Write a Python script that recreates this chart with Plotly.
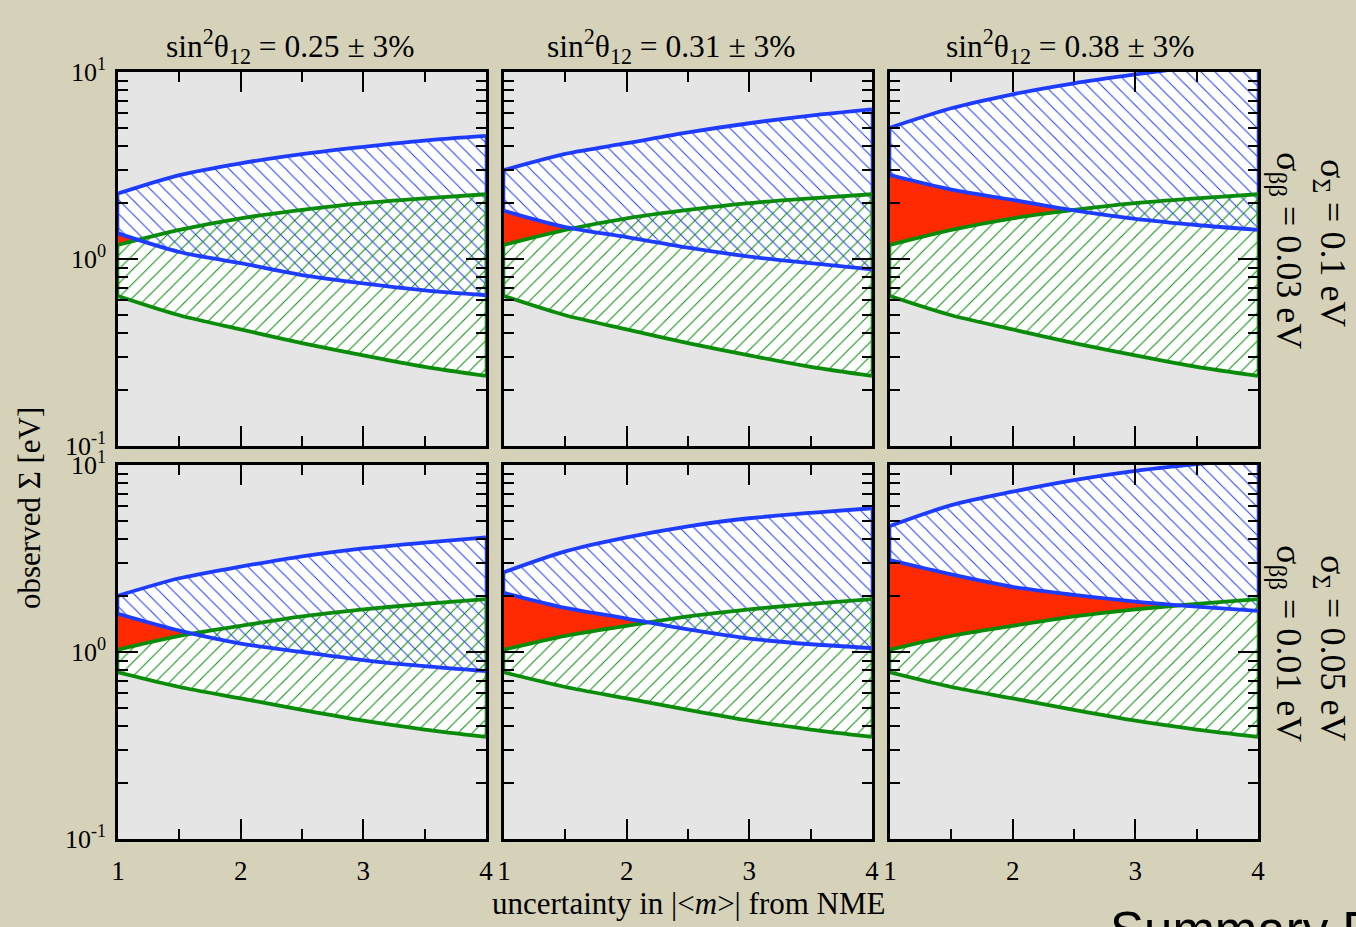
import plotly.graph_objects as go

# ---------------- data ----------------
x_nme = [1, 1.5, 2, 2.5, 3, 3.5, 4]

col_titles = ["sin<sup>2</sup>θ<sub>12</sub> = 0.25 ± 3%",
              "sin<sup>2</sup>θ<sub>12</sub> = 0.31 ± 3%",
              "sin<sup>2</sup>θ<sub>12</sub> = 0.38 ± 3%"]
row_labels_sigma = ["σ<sub>Σ</sub> = 0.1 eV", "σ<sub>Σ</sub> = 0.05 eV"]
row_labels_bb = ["σ<sub>ββ</sub> = 0.03 eV", "σ<sub>ββ</sub> = 0.01 eV"]

# green band (beta-beta), same for every column of a row
green_lo_top = [0.634, 0.50, 0.42, 0.355, 0.305, 0.265, 0.237]
green_hi_top = [1.19, 1.43, 1.65, 1.83, 1.99, 2.11, 2.22]
green_lo_bot = [0.778, 0.65, 0.565, 0.49, 0.429, 0.385, 0.352]
green_hi_bot = [1.03, 1.22, 1.38, 1.55, 1.69, 1.81, 1.92]

# blue band (cosmology Sigma)
blue_hi_top_025 = [2.24, 2.81, 3.25, 3.64, 3.98, 4.3, 4.55]
blue_lo_top_025 = [1.37, 1.09, 0.95, 0.82, 0.74, 0.68, 0.64]
blue_hi_top_031 = [2.99, 3.65, 4.16, 4.75, 5.32, 5.85, 6.31]
blue_lo_top_031 = [1.81, 1.48, 1.31, 1.15, 1.03, 0.95, 0.88]
blue_hi_top_038 = [5.04, 6.4, 7.6, 8.7, 9.7, 10.7, 11.6]
blue_lo_top_038 = [2.81, 2.35, 2.07, 1.82, 1.64, 1.52, 1.43]

blue_hi_bot_025 = [2.0, 2.48, 2.86, 3.25, 3.58, 3.85, 4.1]
blue_lo_bot_025 = [1.6, 1.30, 1.11, 1.0, 0.906, 0.84, 0.79]
blue_hi_bot_031 = [2.67, 3.45, 4.1, 4.7, 5.19, 5.55, 5.87]
blue_lo_bot_031 = [2.07, 1.72, 1.51, 1.32, 1.18, 1.10, 1.05]
blue_hi_bot_038 = [4.72, 6.1, 7.2, 8.3, 9.3, 10.1, 10.8]
blue_lo_bot_038 = [3.10, 2.6, 2.23, 2.02, 1.86, 1.75, 1.66]

y_tickvals = [0.1, 1, 10]
y_ticktext = ["10<sup>-1</sup>", "10<sup>0</sup>", "10<sup>1</sup>"]
x_tickvals = [1, 2, 3, 4]
x_minor = [1.5, 2.5, 3.5]
y_minor = [0.2, 0.3, 0.4, 0.5, 0.6, 0.7, 0.8, 0.9, 2, 3, 4, 5, 6, 7, 8, 9]

panels = [
    (green_lo_top, green_hi_top, blue_lo_top_025, blue_hi_top_025),
    (green_lo_top, green_hi_top, blue_lo_top_031, blue_hi_top_031),
    (green_lo_top, green_hi_top, blue_lo_top_038, blue_hi_top_038),
    (green_lo_bot, green_hi_bot, blue_lo_bot_025, blue_hi_bot_025),
    (green_lo_bot, green_hi_bot, blue_lo_bot_031, blue_hi_bot_031),
    (green_lo_bot, green_hi_bot, blue_lo_bot_038, blue_hi_bot_038),
]

# ---------------- style ----------------
W, H = 1356, 927
BLUE = "#1e3cff"
GREEN = "#0a8c0a"
RED = "#ff2a00"
BG = "#d5d2b9"
PANEL = "#e5e5e5"
SERIF = "Liberation Serif, Times New Roman, serif"

col_px = [(118, 486), (504, 872), (890, 1258)]
row_px = [(72, 446), (465, 839)]

fig = go.Figure()


def add(tr, n):
    tr.update(xaxis="x" if n == 1 else f"x{n}", yaxis="y" if n == 1 else f"y{n}",
              showlegend=False, hoverinfo="skip", mode="lines")
    fig.add_trace(tr)


for i, (glo, ghi, blo, bhi) in enumerate(panels):
    n = i + 1
    sp = dict(shape="spline", smoothing=0.8)
    # red gap between green upper and blue lower
    add(go.Scatter(x=x_nme, y=ghi, line=dict(width=0, **sp)), n)
    add(go.Scatter(x=x_nme, y=blo, line=dict(width=0, **sp), fill="tonexty", fillcolor=RED), n)
    # white base of green band
    add(go.Scatter(x=x_nme, y=glo, line=dict(width=0, **sp)), n)
    add(go.Scatter(x=x_nme, y=ghi, line=dict(width=0, **sp), fill="tonexty", fillcolor="white"), n)
    # blue hatched band
    add(go.Scatter(x=x_nme, y=blo, line=dict(width=0, **sp)), n)
    add(go.Scatter(x=x_nme, y=bhi, line=dict(width=0, **sp), fill="tonexty",
                   fillpattern=dict(shape="\\", fgcolor=BLUE, bgcolor="white", size=10,
                                    solidity=0.1, fillmode="replace")), n)
    # green hatched band
    add(go.Scatter(x=x_nme, y=glo, line=dict(width=0, **sp)), n)
    add(go.Scatter(x=x_nme, y=ghi, line=dict(width=0, **sp), fill="tonexty",
                   fillpattern=dict(shape="/", fgcolor=GREEN, bgcolor="rgba(0,0,0,0)", size=10,
                                    solidity=0.1, fillmode="replace")), n)
    # vertical band edges
    for xe, k in ((x_nme[0], 0), (x_nme[-1], -1)):
        add(go.Scatter(x=[xe, xe], y=[blo[k], bhi[k]], line=dict(width=2.5, color=BLUE)), n)
        add(go.Scatter(x=[xe, xe], y=[glo[k], ghi[k]], line=dict(width=2.5, color=GREEN)), n)
    # boundary curves
    for yy in (glo, ghi):
        add(go.Scatter(x=x_nme, y=yy, line=dict(width=3.8, color=GREEN, **sp)), n)
    for yy in (blo, bhi):
        add(go.Scatter(x=x_nme, y=yy, line=dict(width=3.8, color=BLUE, **sp)), n)

layout = dict(
    width=W, height=H,
    paper_bgcolor=BG, plot_bgcolor=PANEL,
    margin=dict(l=0, r=0, t=0, b=0, pad=0, autoexpand=False),
    font=dict(family=SERIF, color="black", size=22),
    showlegend=False,
)

for i in range(6):
    n = i + 1
    r, c = divmod(i, 3)
    x0, x1 = col_px[c]
    y0, y1 = row_px[r]
    xs = "xaxis" if n == 1 else f"xaxis{n}"
    ys = "yaxis" if n == 1 else f"yaxis{n}"
    layout[xs] = dict(
        domain=[x0 / W, x1 / W], anchor="y" if n == 1 else f"y{n}",
        range=[1, 4], tickmode="array", tickvals=x_tickvals,
        ticks="inside", ticklen=20, tickwidth=1.8, tickcolor="black",
        minor=dict(tickmode="array", tickvals=x_minor, ticks="inside", ticklen=10,
                   tickwidth=1.8, tickcolor="black"),
        showline=True, linecolor="black", linewidth=2.5, mirror="allticks",
        showgrid=False, zeroline=False, automargin=False,
        showticklabels=(r == 1), tickfont=dict(family=SERIF, size=27, color="black"),
        ticklabelstandoff=6,
    )
    layout[ys] = dict(
        domain=[1 - y1 / H, 1 - y0 / H], anchor="x" if n == 1 else f"x{n}",
        type="log", range=[-1, 1], tickmode="array", tickvals=y_tickvals, ticktext=y_ticktext,
        ticks="inside", ticklen=20, tickwidth=1.8, tickcolor="black",
        minor=dict(tickmode="array", tickvals=y_minor, ticks="inside", ticklen=10,
                   tickwidth=1.8, tickcolor="black"),
        showline=True, linecolor="black", linewidth=2.5, mirror="allticks",
        showgrid=False, zeroline=False, automargin=False,
        showticklabels=(c == 0), tickfont=dict(family=SERIF, size=26, color="black"),
        ticklabelstandoff=4,
    )

fig.update_layout(**layout)

ann = []
title_cx = [290, 671, 1070]
for c in range(3):
    ann.append(dict(text=col_titles[c], x=title_cx[c] / W, y=1 - 46 / H, xref="paper", yref="paper",
                    xanchor="center", yanchor="middle", showarrow=False,
                    font=dict(family=SERIF, size=31.5, color="black")))
sig_y = [243, 648]
bb_y = [250, 643]
for r in range(2):
    ann.append(dict(text=row_labels_sigma[r], x=1331 / W, y=1 - sig_y[r] / H, xref="paper", yref="paper",
                    xanchor="center", yanchor="middle", showarrow=False, textangle=90,
                    font=dict(family=SERIF, size=36, color="black")))
    ann.append(dict(text=row_labels_bb[r], x=1287 / W, y=1 - bb_y[r] / H, xref="paper", yref="paper",
                    xanchor="center", yanchor="middle", showarrow=False, textangle=90,
                    font=dict(family=SERIF, size=36, color="black")))
ann.append(dict(text="observed Σ [eV]", x=30 / W, y=1 - 508 / H, xref="paper", yref="paper",
                xanchor="center", yanchor="middle", showarrow=False, textangle=-90,
                font=dict(family=SERIF, size=31, color="black")))
ann.append(dict(text="uncertainty in |&lt;<i>m</i>&gt;| from NME", x=688 / W, y=1 - 903 / H,
                xref="paper", yref="paper", xanchor="center", yanchor="middle", showarrow=False,
                font=dict(family=SERIF, size=31, color="black")))
ann.append(dict(text="Summary E", x=1108 / W, y=1 - 900 / H, xref="paper", yref="paper",
                xanchor="left", yanchor="top", showarrow=False,
                font=dict(family="Liberation Sans, Arial, sans-serif", size=51, color="black")))
fig.update_layout(annotations=ann)

fig.write_html("out.html")
